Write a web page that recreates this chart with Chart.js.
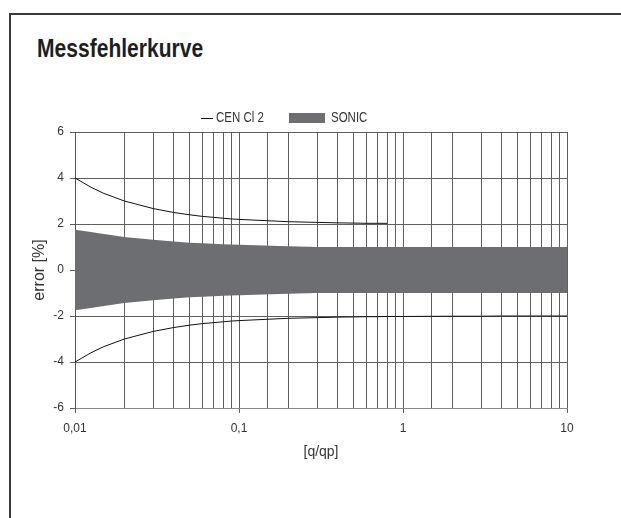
<!DOCTYPE html>
<html>
<head>
<meta charset="utf-8">
<script src="https://cdn.jsdelivr.net/npm/chart.js@4.4.1/dist/chart.umd.min.js"></script>
<style>
  html, body { margin: 0; padding: 0; background: #fff; }
  #wrap { position: relative; width: 621px; height: 518px; overflow: hidden; }
  #frame { position: absolute; left: 9px; top: 13px; width: 620px; height: 520px;
           border-top: 2px solid #3a3a3a; border-left: 2px solid #3a3a3a; box-sizing: border-box; }
  #title { position: absolute; left: 37px; top: 35px; line-height: 26px; white-space: nowrap;
           font-family: 'Liberation Sans', Arial, sans-serif;
           font-weight: bold; font-size: 26px; color: #1e1e1e;
           transform: scaleX(0.81); transform-origin: 0 0; }
  canvas { position: absolute; left: 0; top: 0; }
</style>
</head>
<body>
<div id="wrap">
  <div id="frame"></div>
  <div id="title">Messfehlerkurve</div>
  <canvas id="c" width="621" height="518"></canvas>
</div>
<script>
// ---- data ----
const qValues    = [0.01, 0.0125, 0.015, 0.02, 0.03, 0.04, 0.05, 0.06, 0.07, 0.08, 0.09, 0.1,
                    0.2, 0.3, 0.4, 0.5, 0.6, 0.7, 0.8, 0.9, 1, 2, 3, 4, 5, 6, 7, 8, 9, 10];
const cenUpper   = [4.0, 3.6, 3.33, 3.0, 2.67, 2.5, 2.4, 2.33, 2.29, 2.25, 2.22, 2.2,
                    2.1, 2.07, 2.05, 2.04, 2.03, 2.03, 2.03, null, null, null, null, null, null, null, null, null, null, null];
const cenLower   = [-4.0, -3.6, -3.33, -3.0, -2.67, -2.5, -2.4, -2.33, -2.29, -2.25, -2.22, -2.2,
                    -2.1, -2.07, -2.05, -2.04, -2.03, -2.03, -2.02, -2.02, -2.02, -2.01, -2.01, -2.0, -2.0, -2.0, -2.0, -2.0, -2.0, -2.0];
const sonicUpper = [1.75, 1.65, 1.56, 1.44, 1.31, 1.24, 1.19, 1.16, 1.14, 1.12, 1.11, 1.10,
                    1.03, 1.0, 1.0, 1.0, 1.0, 1.0, 1.0, 1.0, 1.0, 1.0, 1.0, 1.0, 1.0, 1.0, 1.0, 1.0, 1.0, 1.0];
const sonicLower = [-1.75, -1.65, -1.56, -1.44, -1.31, -1.24, -1.19, -1.16, -1.14, -1.12, -1.11, -1.10,
                    -1.03, -1.0, -1.0, -1.0, -1.0, -1.0, -1.0, -1.0, -1.0, -1.0, -1.0, -1.0, -1.0, -1.0, -1.0, -1.0, -1.0, -1.0];
const seriesLabels = ['CEN Cl 2', 'SONIC'];
const xTickValues = [0.01, 0.1, 1, 10];
const xTickLabels = ['0,01', '0,1', '1', '10'];
const yTickValues = [-6, -4, -2, 0, 2, 4, 6];
const xAxisTitle = '[q/qp]';
const yAxisTitle = 'error [%]';

// ---- styles ----
const REGULAR = "'Liberation Sans', Arial, sans-serif";
const BAND = '#6d6e71';
const GRID = '#5f5f5f';
const TEXT = '#333333';

const pts = arr => qValues.map((q, i) => ({ x: q, y: arr[i] }));
const isMajor = v => {
  const m = v / Math.pow(10, Math.floor(Math.log10(v) + 1e-9));
  return Math.abs(m - 1) < 1e-6;
};

const legendPlugin = {
  id: 'customLegend',
  afterDraw(chart) {
    const ctx = chart.ctx;
    const ds = chart.data.datasets;
    const y = 118;
    const narrowText = (txt, x) => {
      ctx.save();
      ctx.translate(x, y);
      ctx.scale(0.82, 1);
      ctx.fillText(txt, 0, 0);
      ctx.restore();
    };
    ctx.save();
    ctx.font = '14px ' + REGULAR;
    ctx.fillStyle = TEXT;
    ctx.textBaseline = 'middle';
    ctx.strokeStyle = '#111';
    ctx.lineWidth = 1;
    ctx.beginPath();
    ctx.moveTo(201, y + 0.5);
    ctx.lineTo(213, y + 0.5);
    ctx.stroke();
    narrowText(ds[0].label, 216);
    ctx.fillStyle = BAND;
    ctx.fillRect(289, 113, 36, 10);
    ctx.fillStyle = TEXT;
    narrowText(ds[2].label, 331);
    ctx.restore();
  }
};

new Chart(document.getElementById('c'), {
  type: 'line',
  data: {
    datasets: [
      { label: seriesLabels[0], data: pts(cenUpper), borderColor: '#111', borderWidth: 1, pointRadius: 0, fill: false, spanGaps: false },
      { label: seriesLabels[0], data: pts(cenLower), borderColor: '#111', borderWidth: 1, pointRadius: 0, fill: false },
      { label: seriesLabels[1], data: pts(sonicUpper), borderColor: BAND, borderWidth: 0, pointRadius: 0, backgroundColor: BAND, fill: '+1' },
      { label: seriesLabels[1], data: pts(sonicLower), borderColor: BAND, borderWidth: 0, pointRadius: 0, backgroundColor: BAND, fill: false }
    ]
  },
  options: {
    responsive: false,
    animation: false,
    events: [],
    layout: { padding: { left: 20, right: 54, top: 132, bottom: 50 } },
    plugins: { legend: { display: false }, title: { display: false }, tooltip: { enabled: false } },
    elements: { line: { tension: 0 } },
    scales: {
      x: {
        type: 'logarithmic',
        min: 0.01, max: 10,
        afterFit: s => { s.height = 60; },
        grid: {
          color: GRID, lineWidth: 1, drawTicks: true, tickLength: 5,
          tickColor: c => (c.tick && isMajor(c.tick.value)) ? GRID : 'rgba(0,0,0,0)'
        },
        border: { display: true, color: '#888', width: 1 },
        ticks: {
          autoSkip: false, maxRotation: 0, padding: 8, color: TEXT,
          font: { family: REGULAR, size: 12 },
          callback: v => {
            const i = xTickValues.findIndex(t => Math.abs(t - v) < 1e-9);
            return i >= 0 ? xTickLabels[i] : '';
          }
        },
        title: { display: true, text: xAxisTitle, color: TEXT, font: { family: REGULAR, size: 14 }, padding: { top: 0, bottom: 7 } }
      },
      y: {
        min: -6, max: 6,
        afterFit: s => { s.width = 55; },
        afterBuildTicks: s => { s.ticks = yTickValues.map(v => ({ value: v })); },
        grid: { color: GRID, lineWidth: 1, tickLength: 5, tickColor: GRID },
        border: { display: true, color: '#555', width: 1 },
        ticks: { padding: 6, color: TEXT, font: { family: REGULAR, size: 12 } },
        title: { display: true, text: yAxisTitle, color: TEXT, font: { family: REGULAR, size: 16 }, padding: { top: 10, bottom: 0 } }
      }
    }
  },
  plugins: [legendPlugin]
});
</script>
</body>
</html>
